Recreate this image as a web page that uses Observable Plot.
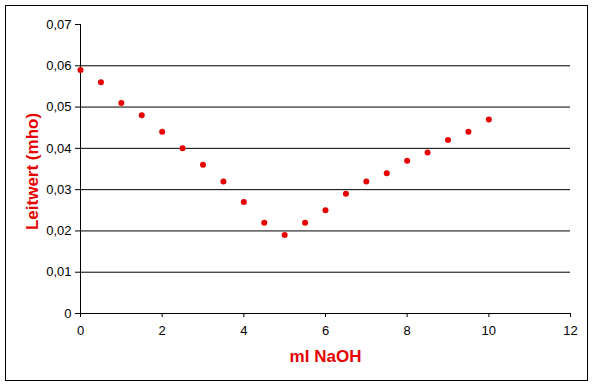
<!DOCTYPE html>
<html>
<head>
<meta charset="utf-8">
<script src="https://cdn.jsdelivr.net/npm/d3@7"></script>
<script src="https://cdn.jsdelivr.net/npm/@observablehq/plot@0.6"></script>
<style>
  html, body { margin: 0; padding: 0; background: #fff; }
  #wrap { position: relative; width: 594px; height: 385px; }
  #border { position: absolute; left: 5px; top: 5px; width: 583px; height: 376px; box-sizing: border-box; border: 1px solid #000; pointer-events: none; }
</style>
</head>
<body>
<div id="wrap"><div id="border"></div></div>
<script>
const mlNaOH = [0, 0.5, 1, 1.5, 2, 2.5, 3, 3.5, 4, 4.5, 5, 5.5, 6, 6.5, 7, 7.5, 8, 8.5, 9, 9.5, 10];
const leitwert = [0.059, 0.056, 0.051, 0.048, 0.044, 0.040, 0.036, 0.032, 0.027, 0.022, 0.019, 0.022, 0.025, 0.029, 0.032, 0.034, 0.037, 0.039, 0.042, 0.044, 0.047];
const xTicks = [0, 2, 4, 6, 8, 10, 12];
const yTicks = [0, 0.01, 0.02, 0.03, 0.04, 0.05, 0.06, 0.07];
const yGrid = [0.01, 0.02, 0.03, 0.04, 0.05, 0.06];
const xTitle = "ml NaOH";
const yTitle = "Leitwert (mho)";

const data = mlNaOH.map((x, i) => ({x, y: leitwert[i]}));
const red = "#e60000";
const fmt = d => d === 0 ? "0" : d.toFixed(2).replace(".", ",");

const chart = Plot.plot({
  width: 594,
  height: 385,
  marginLeft: 80,
  marginRight: 24,
  marginTop: 24,
  marginBottom: 72,
  style: {fontFamily: "'Liberation Sans', Arial, sans-serif", color: "#000", background: "transparent"},
  x: {domain: [0, 12]},
  y: {domain: [0, 0.07]},
  marks: [
    Plot.ruleY(yGrid, {x1: 0, x2: 12, stroke: "#000"}),
    Plot.ruleY([0], {x1: 0, x2: 12, stroke: "#000"}),
    Plot.ruleX([0], {y1: 0, y2: 0.07, stroke: "#000"}),
    Plot.axisY({ticks: yTicks, tickSize: 5, tickPadding: 4, tickFormat: fmt, fontSize: 13, label: null, stroke: "#000"}),
    Plot.axisX({ticks: xTicks, tickSize: 4, tickPadding: 8, fontSize: 13, label: null, stroke: "#000"}),
    Plot.dot(data, {x: "x", y: "y", r: 3, fill: red, stroke: null}),
    Plot.text([yTitle], {frameAnchor: "left", rotate: -90, dx: -43, dy: 2.5, lineAnchor: "bottom", textAnchor: "middle", fill: red, fontSize: 17, fontWeight: "bold"}),
    Plot.text([xTitle], {frameAnchor: "bottom", dy: 48, lineAnchor: "bottom", textAnchor: "middle", fill: red, fontSize: 17, fontWeight: "bold"})
  ]
});
document.getElementById("wrap").prepend(chart);
</script>
</body>
</html>
